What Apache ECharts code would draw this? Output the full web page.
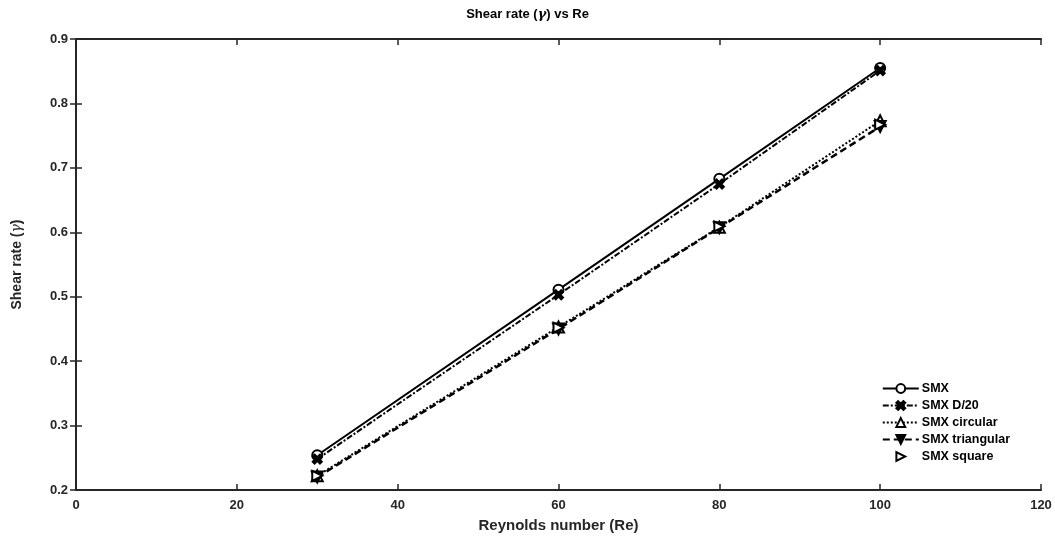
<!DOCTYPE html>
<html>
<head>
<meta charset="utf-8">
<script src="https://cdn.jsdelivr.net/npm/echarts@6/dist/echarts.min.js"></script>
<style>html,body{margin:0;padding:0;background:#fff}#c{width:1055px;height:542px}</style>
</head>
<body>
<div id="c"></div>
<script>
const reynolds = [30, 60, 80, 100];
const smx = [0.254, 0.511, 0.683, 0.855];
const smxD20 = [0.248, 0.503, 0.675, 0.851];
const smxCircular = [0.222, 0.453, 0.608, 0.773];
const smxTriangular = [0.220, 0.450, 0.607, 0.764];
const smxSquare = [0.222, 0.452, 0.609, 0.767];
const seriesNames = ['SMX', 'SMX D/20', 'SMX circular', 'SMX triangular', 'SMX square'];
const xTicks = [0, 20, 40, 60, 80, 100, 120];
const yTicks = [0.2, 0.3, 0.4, 0.5, 0.6, 0.7, 0.8, 0.9];

const pair = v => reynolds.map((x, i) => [x, v[i]]);
const font = 'Arial, "Liberation Sans", Helvetica, sans-serif';
const XPATH = 'path://M2,0 L5,3 L8,0 L10,2 L7,5 L10,8 L8,10 L5,7 L2,10 L0,8 L3,5 L0,2 Z';

function mk(name, data, lineType, lineWidth, symbol, size, fill, rotate) {
  return {
    name, type: 'line', data: pair(data), symbol, symbolSize: size, symbolRotate: rotate || 0,
    showAllSymbol: true,
    lineStyle: { color: '#000', width: lineWidth, type: lineType },
    itemStyle: { color: fill, borderColor: '#000', borderWidth: 2 },
    emphasis: { disabled: true }, z: 3
  };
}

const chart = echarts.init(document.getElementById('c'), null, { renderer: 'canvas' });
const axisCommon = {
  min: 0, max: 120, interval: 20,
  axisLine: { lineStyle: { color: '#262626', width: 2 } },
  axisTick: { inside: true, length: 6, lineStyle: { color: '#262626', width: 1.5 } },
  splitLine: { show: false }
};
chart.setOption({
  animation: false,
  backgroundColor: '#fff',
  title: {
    text: '{a|Shear rate (}{g|γ}{a|) vs Re}', left: 'center', top: 3,
    textStyle: { rich: {
      a: { fontFamily: font, fontWeight: 'bold', fontSize: 13, color: '#000' },
      g: { fontFamily: '"DejaVu Serif", serif', fontStyle: 'italic', fontSize: 13, color: '#000' }
    } }
  },
  grid: { left: 76, right: 14, top: 39, bottom: 52, containLabel: false },
  legend: {
    orient: 'vertical', right: 40, top: 377, itemGap: 4, itemWidth: 36, itemHeight: 11,
    data: seriesNames,
    textStyle: { fontFamily: font, fontWeight: 'bold', fontSize: 12.5, color: '#000', padding: [0, 0, 0, -2] }
  },
  xAxis: [
    Object.assign({}, axisCommon, {
      type: 'value', position: 'bottom',
      name: 'Reynolds number (Re)', nameLocation: 'middle', nameGap: 28,
      nameTextStyle: { fontFamily: font, fontWeight: 'bold', fontSize: 15, color: '#262626' },
      axisLabel: { fontFamily: font, fontWeight: 'bold', fontSize: 13, color: '#262626', margin: 9,
        formatter: v => xTicks.includes(v) ? String(v) : '' }
    }),
    Object.assign({}, axisCommon, { type: 'value', position: 'top', axisLabel: { show: false } })
  ],
  yAxis: [
    Object.assign({}, axisCommon, {
      type: 'value', min: 0.2, max: 0.9, interval: 0.1, position: 'left',
      name: '{a|Shear rate (}{g|γ}{a|)}', nameLocation: 'middle', nameGap: 52, nameRotate: 90,
      nameTextStyle: { rich: {
        a: { fontFamily: font, fontWeight: 'bold', fontSize: 14, color: '#262626' },
        g: { fontFamily: '"DejaVu Serif", serif', fontStyle: 'italic', fontSize: 14, color: '#262626' }
      } },
      axisLabel: { fontFamily: font, fontWeight: 'bold', fontSize: 13, color: '#262626', margin: 8,
        formatter: v => { const t = yTicks.find(y => Math.abs(y - v) < 1e-9); return t === undefined ? '' : t.toFixed(1); } }
    }),
    Object.assign({}, axisCommon, { type: 'value', min: 0.2, max: 0.9, interval: 0.1, position: 'right', axisLabel: { show: false } })
  ],
  series: [
    mk(seriesNames[0], smx, 'solid', 2, 'circle', 10, '#fff'),
    mk(seriesNames[1], smxD20, [6, 2, 2, 2], 2, XPATH, 9, '#000'),
    mk(seriesNames[2], smxCircular, [2, 2], 2, 'triangle', 11, '#fff'),
    mk(seriesNames[3], smxTriangular, [7, 4], 2.5, 'triangle', 11, '#000', 180),
    Object.assign(mk(seriesNames[4], smxSquare, 'solid', 0, 'path://M0,0L10,5L0,10Z', 10, '#fff'), { lineStyle: { width: 0, opacity: 0 } })
  ]
});
</script>
</body>
</html>
